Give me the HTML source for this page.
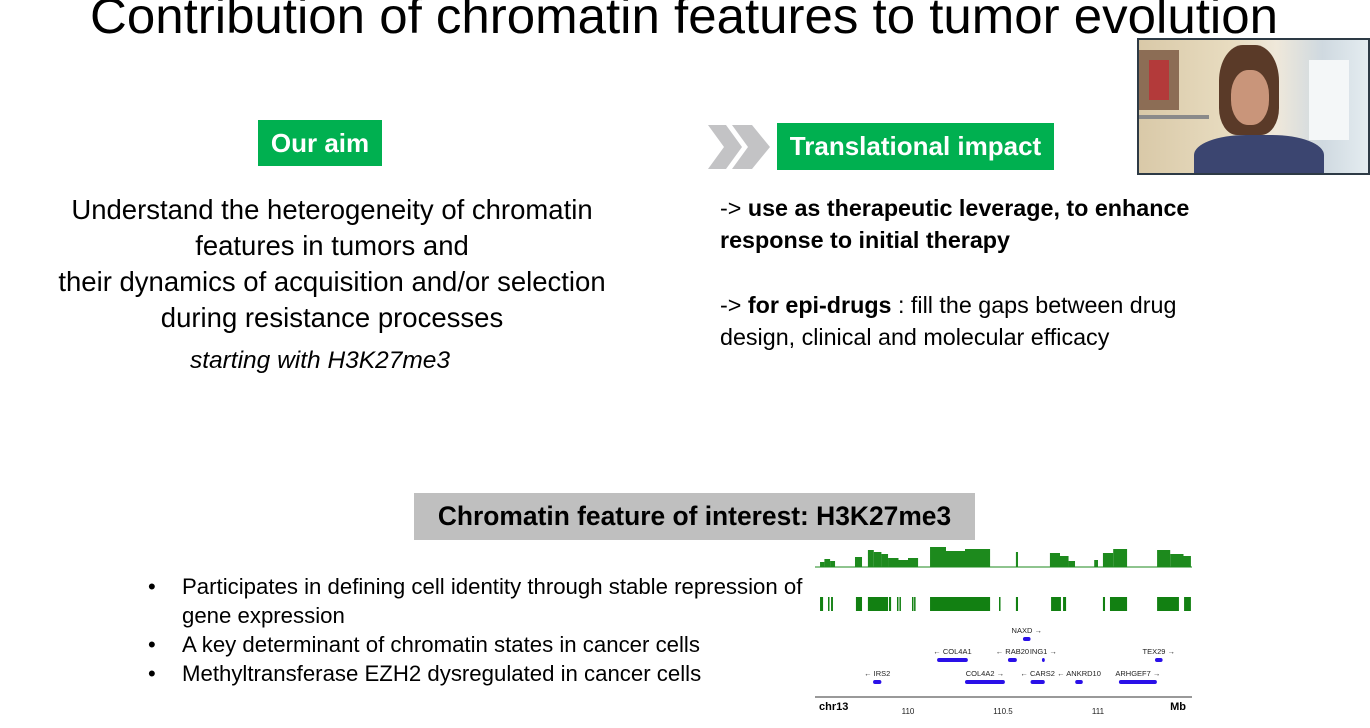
<!DOCTYPE html>
<html><head><meta charset="utf-8">
<style>
body{margin:0;width:1370px;height:728px;background:#fff;position:relative;overflow:hidden;font-family:"Liberation Sans",sans-serif;color:#000}
.a{position:absolute}
.gbox{background:#00b050;color:#fff;font-weight:bold;display:flex;align-items:center;justify-content:center}
.ln{position:absolute;white-space:nowrap;line-height:1}
</style></head><body>
<svg class="a" style="left:0;top:0" width="1370" height="60">
<text x="90" y="33" font-size="50" font-family="Liberation Sans, sans-serif" textLength="1188" lengthAdjust="spacingAndGlyphs">Contribution of chromatin features to tumor evolution</text>
</svg>

<div class="a gbox" style="left:258px;top:120px;width:124px;height:46px;font-size:26px">Our aim</div>

<div>
<div class="ln" style="left:0px;width:664px;text-align:center;top:196px;font-size:27.5px">Understand the heterogeneity of chromatin</div>
<div class="ln" style="left:0px;width:664px;text-align:center;top:232px;font-size:27.5px">features in tumors and</div>
<div class="ln" style="left:0px;width:664px;text-align:center;top:268px;font-size:27.5px">their dynamics of acquisition and/or selection</div>
<div class="ln" style="left:0px;width:664px;text-align:center;top:304px;font-size:27.5px">during resistance processes</div>
<div class="ln" style="left:0px;width:640px;text-align:center;top:349px;font-size:24.5px;font-style:italic">starting with H3K27me3</div>
</div>

<svg class="a" style="left:706px;top:125px" width="70" height="44">
<polygon points="2,0 20,0 36,22 20,44 2,44 18,22" fill="#c3c3c5"/>
<polygon points="26,0 46,0 64,22 46,44 26,44 42,22" fill="#c3c3c5"/>
</svg>
<div class="a gbox" style="left:777px;top:123px;width:277px;height:47px;font-size:26px">Translational impact</div>

<div>
<div class="ln" style="left:720px;top:197px;font-size:23.3px">-&gt; <b>use as therapeutic leverage, to enhance</b></div>
<div class="ln" style="left:720px;top:229px;font-size:23.3px"><b>response to initial therapy</b></div>
<div class="ln" style="left:720px;top:294px;font-size:23.3px">-&gt; <b>for epi-drugs</b> : fill the gaps between drug</div>
<div class="ln" style="left:720px;top:326px;font-size:23.3px">design, clinical and molecular efficacy</div>
</div>

<div class="a" style="left:1137px;top:38px;width:233px;height:137px;overflow:hidden;border:2px solid #2d3a45;box-sizing:border-box;background:linear-gradient(90deg,#d9c9a8 0%,#e8dcc0 40%,#efe8da 60%,#cfd9e0 80%,#e4ecf0 100%)">
<div class="a" style="left:0;top:10px;width:40px;height:60px;background:#8c6d55"></div>
<div class="a" style="left:10px;top:20px;width:20px;height:40px;background:#b33a3a"></div>
<div class="a" style="left:0;top:75px;width:70px;height:4px;background:#8a8a8a"></div>
<div class="a" style="left:170px;top:20px;width:40px;height:80px;background:#f4f7f8"></div>
<div class="a" style="left:80px;top:5px;width:60px;height:90px;border-radius:40% 40% 30% 30%;background:#5a3a28"></div>
<div class="a" style="left:92px;top:30px;width:38px;height:55px;border-radius:45%;background:#c9957a"></div>
<div class="a" style="left:55px;top:95px;width:130px;height:50px;border-radius:40% 40% 0 0;background:#3b4570"></div>
</div>

<div class="a" style="left:414px;top:493px;width:561px;height:47px;background:#bfbfbf;font-weight:bold;font-size:26.4px;display:flex;align-items:center;justify-content:center">Chromatin feature of interest: H3K27me3</div>

<div>
<div class="ln" style="left:148px;top:576px;font-size:22px">•</div><div class="ln" style="left:182px;top:576px;font-size:22.2px">Participates in defining cell identity through stable repression of</div>
<div class="ln" style="left:182px;top:605px;font-size:22.2px">gene expression</div>
<div class="ln" style="left:148px;top:634px;font-size:22px">•</div><div class="ln" style="left:182px;top:634px;font-size:22.2px">A key determinant of chromatin states in cancer cells</div>
<div class="ln" style="left:148px;top:663px;font-size:22px">•</div><div class="ln" style="left:182px;top:663px;font-size:22.2px">Methyltransferase EZH2 dysregulated in cancer cells</div>
</div>

<svg id="track" class="a" style="left:0;top:0" width="1370" height="728"></svg>

<script>
// data (Mb)
const covSegs = [[109.537,109.56,5],[109.56,109.59,8],[109.59,109.616,6],[109.721,109.758,10],[109.789,109.82,17],[109.82,109.86,15],[109.86,109.895,13],[109.895,109.95,9],[109.95,110.0,7],[110.0,110.053,9],[110.116,110.2,20],[110.2,110.3,16],[110.3,110.432,18],[110.568,110.579,15],[110.747,110.8,14],[110.8,110.845,11],[110.845,110.879,6],[110.98,111.0,7],[111.026,111.08,14],[111.08,111.153,18],[111.311,111.38,17],[111.38,111.45,13],[111.45,111.489,11]];
const blocks = [[109.537,109.553],[109.579,109.584],[109.595,109.605],[109.726,109.758],[109.789,109.895],[109.9,109.911],[109.942,109.947],[109.955,109.96],[110.021,110.026],[110.032,110.037],[110.116,110.432],[110.479,110.484],[110.568,110.579],[110.753,110.805],[110.816,110.832],[111.026,111.037],[111.063,111.153],[111.311,111.426],[111.453,111.489]];
const geneNames = ["NAXD","COL4A1","RAB20","ING1","TEX29","IRS2","COL4A2","CARS2","ANKRD10","ARHGEF7"];
const geneStart = [110.605,110.153,110.526,110.705,111.3,109.816,110.3,110.645,110.88,111.11];
const geneEnd = [110.645,110.315,110.573,110.72,111.34,109.86,110.51,110.72,110.92,111.31];
const geneStrand = [1,-1,-1,1,1,-1,1,-1,-1,1];
const geneRow = [0,1,1,1,1,2,2,2,2,2];
const ticks = [110,110.5,111];
const tickLabels = ["110","110.5","111"];

const svg = document.getElementById('track');
const NS='http://www.w3.org/2000/svg';
const x = v => 908 + (v-110)*190;
const rowY = [639,660,682];
function mk(t,a){const e=document.createElementNS(NS,t);for(const k in a)e.setAttribute(k,a[k]);svg.appendChild(e);return e;}

covSegs.forEach(s=>{
  const r=mk('rect',{x:x(s[0]),y:567-s[2],width:x(s[1])-x(s[0]),height:s[2],fill:'#1d8a1d'});
  
  
});
const base=mk('line',{x1:815,x2:1192,y1:567,y2:567,stroke:'#1d8a1d','stroke-width':1});



blocks.forEach(b=>{
  const r=mk('rect',{x:x(b[0]),y:597,width:Math.max(1.5,x(b[1])-x(b[0])),height:14,fill:'#128012'});
  
  
});

geneNames.forEach((n,i)=>{
  const y=rowY[geneRow[i]];
  const x0=x(geneStart[i]), x1=x(geneEnd[i]);
  const r=mk('rect',{x:x0,y:y-2,width:x1-x0,height:4,rx:2,fill:'#2a10e8'});
  
  
  const cx=(x0+x1)/2;
  const t=mk('text',{x:cx,y:y-6,'font-size':7.5,'font-family':'Liberation Sans, sans-serif','text-anchor':'middle',fill:'#222'});
  t.textContent=(geneStrand[i]<0?'\u2190 ':'')+n+(geneStrand[i]>0?' \u2192':'');
  
  
});

const ax=mk('line',{x1:815,x2:1192,y1:697,y2:697,stroke:'#333','stroke-width':1});


ticks.forEach((v,i)=>{
  const t=mk('text',{x:x(v),y:714,'font-size':8,'font-family':'Liberation Sans, sans-serif','text-anchor':'middle',fill:'#222'});
  t.textContent=tickLabels[i];
  
  
});
const c=mk('text',{x:819,y:710,'font-size':11,'font-weight':'bold','font-family':'Liberation Sans, sans-serif'});
c.textContent='chr13';


const m=mk('text',{x:1186,y:710,'font-size':11,'font-weight':'bold','text-anchor':'end','font-family':'Liberation Sans, sans-serif'});
m.textContent='Mb';


</script>
</body></html>
